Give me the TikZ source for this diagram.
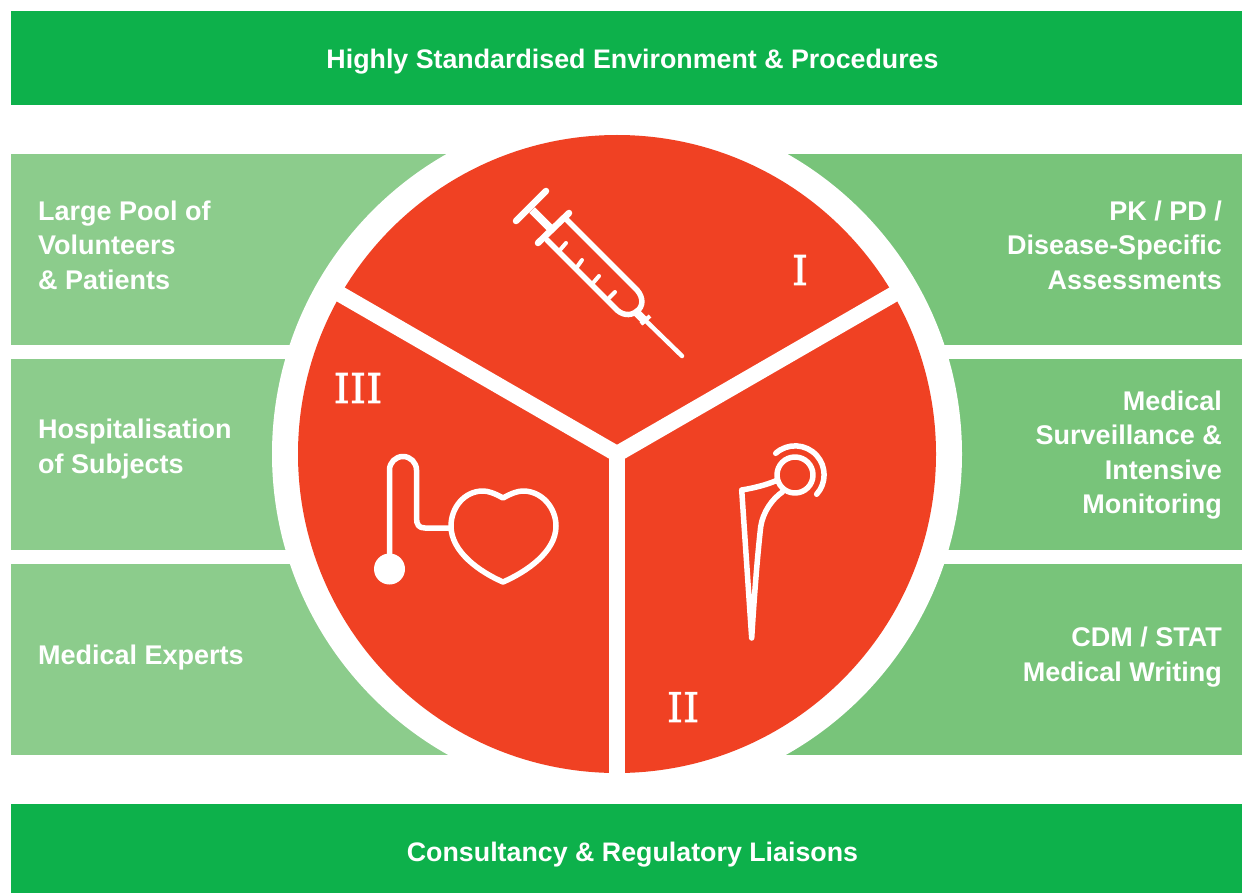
\documentclass[tikz,border=0pt]{standalone}
\usepackage{fontspec}
\setmainfont{Liberation Sans}
\newfontfamily\numeralfont[FakeBold=1.5]{DejaVu Serif}
\definecolor{bandgreen}{HTML}{0DB14B}
\definecolor{leftgreen}{HTML}{8CCC8C}
\definecolor{rightgreen}{HTML}{78C47A}
\definecolor{discred}{HTML}{F04123}
\tikzset{
  band/.style = {fill=bandgreen, minimum width=1231pt, inner sep=0pt},
  bandtext/.style = {white, font=\fontsize{26.8}{34.5}\selectfont\bfseries},
  leftpanel/.style = {fill=leftgreen, minimum width=606pt, minimum height=191pt, inner sep=0pt},
  rightpanel/.style = {fill=rightgreen, minimum width=625pt, minimum height=191pt, inner sep=0pt},
  lefttext/.style = {white, font=\fontsize{27}{34.5}\selectfont\bfseries, align=left, anchor=west, inner sep=0pt},
  righttext/.style = {white, font=\fontsize{27}{34.5}\selectfont\bfseries, align=right, anchor=east, inner sep=0pt},
  numeral/.style = {white, font=\fontsize{41}{41}\selectfont\numeralfont, inner sep=0pt},
  icon/.style = {draw=white, line width=5.5pt, line cap=round, line join=round},
  divider/.style = {draw=white, line width=16pt}
}
\begin{document}
\begin{tikzpicture}[x=1pt,y=-1pt]
\useasboundingbox (0,0) rectangle (1242,893);
\node [band, minimum height=94pt] (topband) at (626.5,58) {};
\node [band, minimum height=89pt] (bottomband) at (626.5,848.5) {};
\node [bandtext] (toptext) at (632.5,62) {Highly Standardised Environment \& Procedures};
\node [bandtext] (bottomtext) at (632.5,855) {Consultancy \& Regulatory Liaisons};
% panels, cut off later by the disc
\node [leftpanel] (poolpanel) at (314,249.5) {};
\node [leftpanel] (hospitalpanel) at (314,454.5) {};
\node [leftpanel] (expertspanel) at (314,659.5) {};
\node [rightpanel] (pkpanel) at (929.5,249.5) {};
\node [rightpanel] (surveillancepanel) at (929.5,454.5) {};
\node [rightpanel] (cdmpanel) at (929.5,659.5) {};
\node [lefttext] (pooltext) at (38,245) {Large Pool of\\Volunteers\\\& Patients};
\node [lefttext] (hospitaltext) at (38,449) {Hospitalisation\\of Subjects};
\node [lefttext] (expertstext) at (38,658) {Medical Experts};
\node [righttext] (pktext) at (1222,245) {PK / PD /\\Disease-Specific\\Assessments};
\node [righttext] (surveillancetext) at (1222,455) {Medical\\Surveillance \&\\Intensive\\Monitoring};
\node [righttext] (cdmtext) at (1222,657) {CDM / STAT\\Medical Writing};
% disc
\coordinate (hub) at (617,454);
\fill [white] (hub) circle (345);
\fill [discred] (hub) circle (319);
\draw [divider] (hub) -- ++(90:335);
\draw [divider] (hub) -- ++(210:335);
\draw [divider] (hub) -- ++(-30:335);
\fill [white] (hub) circle (8);
\node [numeral] (one) at (800,270) {I};
\node [numeral] (two) at (683,707) {II};
\node [numeral] (three) at (358,388) {III};
% syringe
\draw [icon, line width=6.5pt] (516,221) -- (546,191);
\draw [icon, line width=8pt, line cap=butt] (532,210) -- (552,230);
\draw [icon, line width=6.5pt] (538,243) -- (569,213);
\draw [icon] (566,219) -- (637,290) .. controls (644,298) and (643,307) .. (637,311) .. controls (630,317) and (621,315) .. (615,308) -- (547,240);
\draw [icon, line width=4pt] (560,250) -- (566,243);
\draw [icon, line width=4pt] (577,267) -- (582,260);
\draw [icon, line width=4pt] (593,283) -- (599,276);
\draw [icon, line width=4pt] (609,298) -- (615,292);
\draw [icon, line width=8pt, line cap=butt] (636,312) -- (646,322);
\draw [icon, line width=4pt, line cap=butt] (641,324) -- (650,316);
\draw [icon, line width=4.5pt] (646,321) -- (682,356);
% heart and tube
\fill [white] (389.5,569) circle (15.5);
\draw [icon, line cap=butt] (389.5,560) -- (389.5,470) arc (180:360:13.5) -- (416.5,518) .. controls (416.5,525) and (419,528) .. (425,528) -- (451,528);
\draw [icon] (503,498) .. controls (494,493) and (488,491) .. (483,491) .. controls (464,491) and (451,508) .. (451,526) .. controls (451,552) and (480,572) .. (503,582) .. controls (526,572) and (556,552) .. (556,526) .. controls (556,508) and (542,491) .. (523,491) .. controls (518,491) and (512,493) .. (503,498) -- cycle;
% hip implant
\draw [icon] (795,475) circle (18);
\draw [icon] (775.7,453.3) arc (228:402:29);
\draw [icon] (776,480.7) .. controls (766,485) and (754,488) .. (741.7,490) -- (751.7,638) -- (751.7,638) .. controls (754,600) and (757,560) .. (760.7,526.7) .. controls (763,512) and (772,499) .. (782.7,491.7);
\end{tikzpicture}
\end{document}
